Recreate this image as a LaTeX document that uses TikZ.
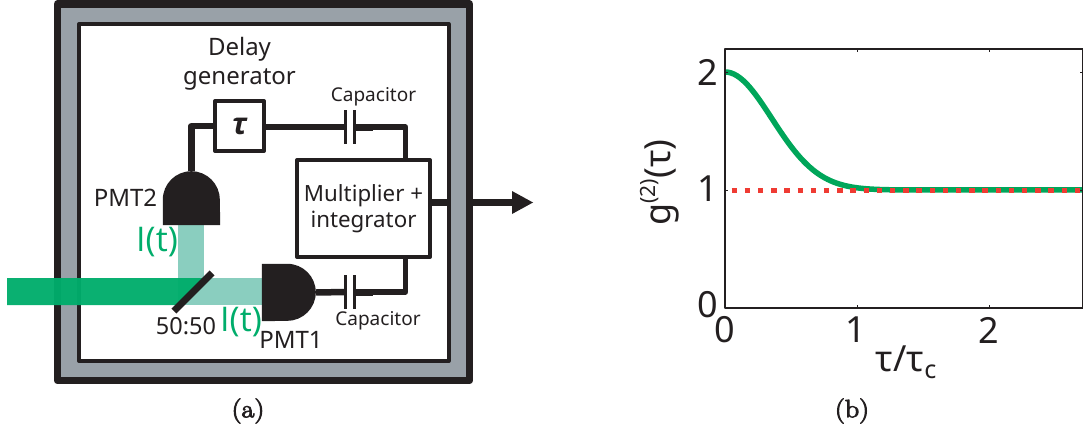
\documentclass[tikz,border=0pt]{standalone}
\usepackage{fontspec}
\setsansfont{Noto Sans}
\newfontfamily\opensans{Open Sans}
\newfontfamily\captfont[FakeBold=4,FakeStretch=1.12]{Latin Modern Roman}
\usepackage{xcolor}
\usetikzlibrary{positioning}
\definecolor{inkblack}{HTML}{231F20}
\definecolor{framegrey}{HTML}{99A1A8}
\definecolor{beamgreen}{HTML}{00AD6B}
\definecolor{beampale}{HTML}{8ACEBF}
\definecolor{curvegreen}{HTML}{00A65A}
\definecolor{dotred}{HTML}{EF3B33}
\newcommand{\bigsize}{\sffamily\fontsize{24}{29}\selectfont}
\newcommand{\midsize}{\sffamily\fontsize{23.5}{28}\selectfont}
\newcommand{\smallsize}{\sffamily\fontsize{19}{23}\selectfont}
\newcommand{\ticksize}{\sffamily\fontsize{36}{40}\selectfont}

\begin{document}
\begin{tikzpicture}[x=1pt,y=1pt,line join=round,inkblack,
                    every node/.style={text=inkblack,inner sep=0pt}]
  \tikzstyle{wire}=[draw=inkblack,line width=6.5pt]
  \tikzstyle{boxed}=[draw=inkblack,line width=4pt,align=center,fill=white]
  \tikzstyle{lbl}=[font=\bigsize,align=center]
  \tikzstyle{caplbl}=[font=\smallsize]
  \tikzstyle{greenlbl}=[font=\opensans\fontsize{34}{38}\selectfont,text=beamgreen]
  \tikzstyle{capnode}=[minimum width=9pt,minimum height=33pt]
  \tikzstyle{plate}=[draw=inkblack,line width=3pt]
  \tikzstyle{ticklbl}=[font=\ticksize]
  \tikzstyle{capt}=[font=\captfont\fontsize{25}{28}\selectfont]

  \useasboundingbox (0,0) rectangle (1083,432);

  \node (tau)  at (239.5,306) [boxed,minimum width=49pt,minimum height=50pt,
                               font=\opensans\fontsize{30}{32}\selectfont\itshape\bfseries] {τ};
  \node (mult) at (363.5,223.5) [boxed,minimum width=133pt,minimum height=97pt,
                               font=\sffamily\fontsize{22.3}{26}\selectfont] {Multiplier +\\integrator};
  \node (capA) at (350.2,305) [capnode] {};
  \node (capB) at (350.2,140) [capnode] {};
  \node (PMTtwo) at (191.5,234) [minimum width=57pt,minimum height=54pt] {};
  \node (PMTone) at (289,139.5) [minimum width=54pt,minimum height=57pt] {};

  \coordinate (stepA)   at (373,305);
  \coordinate (cornerA) at (405.5,305);
  \coordinate (stepB)   at (373,140);
  \coordinate (cornerB) at (405.5,140);
  \coordinate (tip)     at (533,229.5);

  \draw[wire] (mult.east |- tip) -- (512,229.5);
  \fill[inkblack] (tip) -- (512,241) -- (512,218) -- cycle;

  \path[fill=framegrey,even odd rule] (57.5,428) rectangle (469.5,51.5)
                                      (79,408) rectangle (448.5,71);
  \draw[draw=inkblack,line width=7.5pt] (57.5,428) rectangle (469.5,51.5);
  \draw[draw=inkblack,line width=4pt] (79,408) rectangle (448.5,71);

  \fill[beampale] (178,207) rectangle (204,150);
  \fill[beampale] (178,154) rectangle (263,127);
  \fill[beamgreen,opacity=0.96] (7,154) -- (206.5,154) -- (179.5,127) -- (7,127) -- cycle;
  \node (split) at (193,140) [minimum width=54pt,minimum height=7pt,fill=inkblack,rotate=45] {};

  \fill[inkblack] (PMTtwo.south west) -- ++(0,25.5) arc (180:0:28.5) -- (PMTtwo.south east) -- cycle;
  \fill[inkblack] (PMTone.north west) -- ++(25.5,0) arc (90:-90:28.5) -- (PMTone.south west) -- cycle;

  \draw[plate] (capA.north west) -- (capA.south west) (capA.north east) -- (capA.south east);
  \draw[plate] (capB.north west) -- (capB.south west) (capB.north east) -- (capB.south east);

  \draw[wire] (tau.west) -| (PMTtwo.north);
  \draw[wire] (tau.east |- capA) -- (capA.west);
  \draw[wire,line width=7pt] (capA.east) -- (stepA);
  \draw[wire,line width=5.5pt] (stepA) -- (cornerA) -- (mult.north -| cornerA);
  \draw[wire] (PMTone.east) -- (capB.west);
  \draw[wire,line width=7pt] (capB.east) -- (stepB);
  \draw[wire,line width=5.5pt] (stepB) -- (cornerB) -- (mult.south -| cornerB);

  \node[lbl] (delay) [above of = tau, node distance=62pt] {Delay\\generator};
  \node[caplbl] (capAlbl) at (373.5,335) {Capacitor};
  \node[caplbl] (capBlbl) at (378,111) {Capacitor};
  \node[lbl] (PMTtwolbl) [left of = PMTtwo, node distance=66pt] {PMT2};
  \node[lbl] (PMTonelbl) at (291,92) {PMT1};
  \node[lbl,font=\midsize] (splitlbl) at (186,106) {50:50};
  \node[greenlbl] (Ione) at (157,190) {I(t)};
  \node[greenlbl] (Itwo) at (241,110) {I(t)};

  \node[capt] (capta) at (248,21) {(a)};
  \node[capt] (captb) at (852,21) {(b)};

  \begin{scope}
    \clip (725,124) rectangle (1083,384);
    \draw[curvegreen,line width=5.5pt,domain=0:2.72,samples=120,smooth]
      plot ({725+132.3*\x},{124+118*(1+exp(-4*\x*\x))});
    \draw[dotred,line width=5pt,dash pattern=on 5.5pt off 7.7pt] (731.5,242) -- (1083,242);
  \end{scope}
  \draw[draw=inkblack,line width=1.5pt] (725,124) rectangle (1083,383);
  \foreach \k in {0,1,2} {
    \draw[draw=inkblack,line width=0.8pt] ({725+132.3*\k},124) -- ++(0,3);
    \draw[draw=inkblack,line width=0.8pt] ({725+132.3*\k},383) -- ++(0,-3);
    \draw[draw=inkblack,line width=0.8pt] (725,{124+118*\k}) -- ++(3,0);
    \draw[draw=inkblack,line width=0.8pt] (1083,{124+118*\k}) -- ++(-3,0);
  }
  \node[ticklbl] (xzero) at (725,102) {0};
  \node[ticklbl] (xone)  at (856,102) {1};
  \node[ticklbl] (xtwo)  at (989,102) {2};
  \node[ticklbl] (yzero) at (708,127) {0};
  \node[ticklbl] (yone)  at (708,243) {1};
  \node[ticklbl] (ytwo)  at (708,360) {2};
  \node[font=\sffamily\fontsize{36}{40}\selectfont] (xlbl) at (906,70) {τ/τ\raisebox{-7pt}{\fontsize{25}{28}\selectfont c}};
  \node[font=\sffamily\fontsize{36}{40}\selectfont,rotate=90] (ylbl) at (660,249.5) {g\raisebox{15pt}{\fontsize{21}{25}\selectfont (2)}(τ)};
\end{tikzpicture}
\end{document}
